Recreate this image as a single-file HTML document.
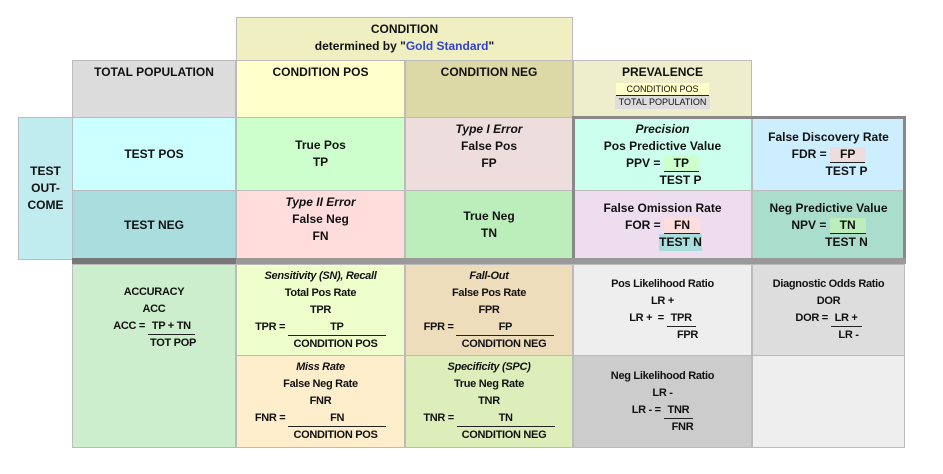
<!DOCTYPE html>
<html><head><meta charset="utf-8"><style>
body{margin:0;width:943px;height:474px;background:#fff;overflow:hidden;font-family:"Liberation Sans",sans-serif;color:#111}
.c{position:absolute;box-sizing:border-box;border:1px solid #bbb;text-align:center;font-size:12px;line-height:17px;display:flex;flex-direction:column;justify-content:center;align-items:center}
.t{justify-content:flex-start;padding-top:3px}
i{font-weight:bold}
.b{font-weight:bold}
.f{display:inline-block;border-bottom:1px solid #222;padding:0 4px;line-height:15px}
.sm{font-size:11px;letter-spacing:-0.3px}
</style></head><body>
<div class="c t b" style="left:236px;top:17px;width:337px;height:44px;background:#efefc2"><div>CONDITION</div><div>determined by "<span style="color:#3344cc">Gold Standard</span>"</div></div>
<div class="c t b" style="left:72px;top:60px;width:164px;height:58px;background:#dcdcdc">TOTAL POPULATION</div>
<div class="c t b" style="left:236px;top:60px;width:169px;height:58px;background:#ffffcc">CONDITION POS</div>
<div class="c t b" style="left:405px;top:60px;width:168px;height:58px;background:#ddd9a6">CONDITION NEG</div>
<div class="c t" style="left:573px;top:60px;width:179px;height:58px;background:#eeeecc"><span class="b">PREVALENCE</span><span style="font-size:9px;line-height:12px;background:#ffffc8;border-bottom:1px solid #222;padding:0 10px;margin-top:2px">CONDITION POS</span><span style="font-size:9px;line-height:13px;background:#dddddd;padding:0 4px">TOTAL POPULATION</span></div>
<div class="c b" style="left:18px;top:117px;width:55px;height:143px;background:#c0ecf0">TEST<br>OUT-<br>COME</div>
<div class="c b" style="left:72px;top:117px;width:164px;height:74px;background:#ccffff">TEST POS</div>
<div class="c b" style="left:72px;top:190px;width:164px;height:70px;background:#aadddd">TEST NEG</div>
<div class="c b" style="left:236px;top:117px;width:169px;height:74px;background:#ccffcc">True Pos<br>TP</div>
<div class="c t b" style="left:405px;top:117px;width:168px;height:74px;background:#eedddd"><i>Type I Error</i>False Pos<br>FP</div>
<div class="c t b" style="left:236px;top:190px;width:169px;height:70px;background:#ffdddd"><i>Type II Error</i>False Neg<br>FN</div>
<div class="c b" style="left:405px;top:190px;width:168px;height:70px;background:#bbeebb">True Neg<br>TN</div>
<div class="c t b" style="left:573px;top:117px;width:179px;height:74px;background:#ccffee"><i>Precision</i>Pos Predictive Value<div>PPV = <span class="f" style="background:#ccffcc;padding:0 10px">TP</span></div><div style="margin-left:36px">TEST P</div></div>
<div class="c b" style="left:752px;top:117px;width:153px;height:74px;background:#cceeff">False Discovery Rate<div>FDR = <span class="f" style="background:#eedddd;padding:0 10px">FP</span></div><div style="margin-left:36px">TEST P</div></div>
<div class="c b" style="left:573px;top:190px;width:179px;height:70px;background:#eeddee">False Omission Rate<div>FOR = <span class="f" style="background:#ffdddd;padding:0 10px">FN</span></div><div style="margin-left:36px;background:#aadddd">TEST N</div></div>
<div class="c b" style="left:752px;top:190px;width:153px;height:70px;background:#aaddcc">Neg Predictive Value<div>NPV = <span class="f" style="background:#bbeebb;padding:0 10px">TN</span></div><div style="margin-left:36px">TEST N</div></div>
<div style="position:absolute;left:572px;top:116px;width:334px;height:145px;border:3px solid #888;box-sizing:border-box"></div>
<div style="position:absolute;left:72px;top:258px;width:834px;height:6px;background:#999"></div>
<div style="position:absolute;left:72px;top:258px;width:164px;height:6px;background:#777"></div>
<div class="c b sm" style="left:72px;top:264px;width:164px;height:184px;background:#cceecc;justify-content:flex-start;padding-top:19px">ACCURACY<br>ACC<div>ACC = <span class="f">TP + TN</span></div><div style="margin-left:38px">TOT POP</div></div>
<div class="c t b sm" style="left:236px;top:264px;width:169px;height:92px;background:#eeffcc"><i>Sensitivity (SN), Recall</i>Total Pos Rate<br>TPR<div>TPR = <span class="f" style="width:90px">TP</span></div><div style="margin-left:30px">CONDITION POS</div></div>
<div class="c t b sm" style="left:405px;top:264px;width:168px;height:92px;background:#eeddbb"><i>Fall-Out</i>False Pos Rate<br>FPR<div>FPR = <span class="f" style="width:90px">FP</span></div><div style="margin-left:30px">CONDITION NEG</div></div>
<div class="c b sm" style="left:573px;top:264px;width:179px;height:92px;background:#eeeeee">Pos Likelihood Ratio<br>LR +<div>LR +&nbsp; = <span class="f">TPR</span></div><div style="margin-left:50px">FPR</div></div>
<div class="c b sm" style="left:752px;top:264px;width:153px;height:92px;background:#dddddd">Diagnostic Odds Ratio<br>DOR<div>DOR = <span class="f">LR +</span></div><div style="margin-left:40px">LR -</div></div>
<div class="c t b sm" style="left:236px;top:355px;width:169px;height:93px;background:#ffeecc"><i>Miss Rate</i>False Neg Rate<br>FNR<div>FNR = <span class="f" style="width:90px">FN</span></div><div style="margin-left:30px">CONDITION POS</div></div>
<div class="c t b sm" style="left:405px;top:355px;width:168px;height:93px;background:#ddeebb"><i>Specificity (SPC)</i>True Neg Rate<br>TNR<div>TNR = <span class="f" style="width:90px">TN</span></div><div style="margin-left:30px">CONDITION NEG</div></div>
<div class="c b sm" style="left:573px;top:355px;width:179px;height:93px;background:#cccccc">Neg Likelihood Ratio<br>LR -<div>LR - = <span class="f">TNR</span></div><div style="margin-left:40px">FNR</div></div>
<div class="c" style="left:752px;top:355px;width:153px;height:93px;background:#eeeeee"></div>
</body></html>
